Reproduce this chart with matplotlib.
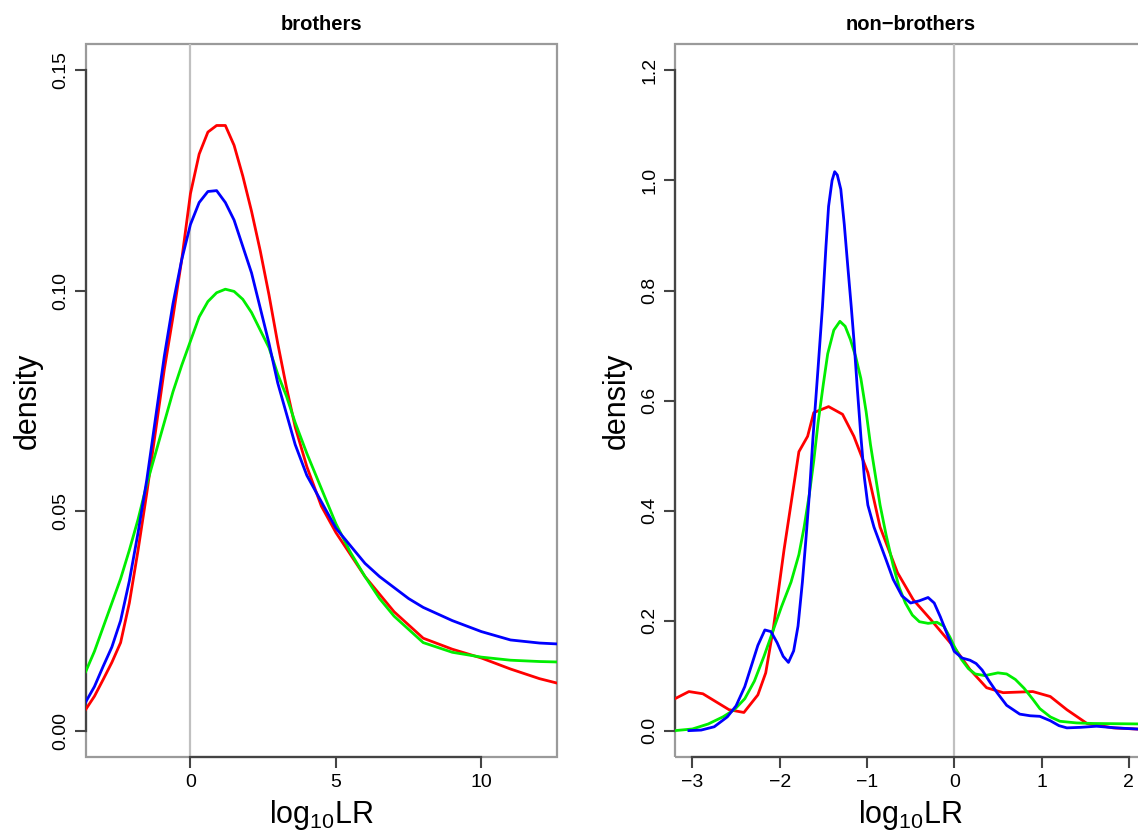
import matplotlib
matplotlib.use("Agg")
import matplotlib.pyplot as plt
from matplotlib.patches import Rectangle

plt.rcParams['font.family'] = ['Liberation Sans', 'DejaVu Sans']
plt.rcParams['mathtext.fontset'] = 'custom'
plt.rcParams['mathtext.rm'] = 'Liberation Sans'
plt.rcParams['mathtext.default'] = 'regular'

# brothers panel (shared x grid)
bro_x = [-3.6, -3.3, -3.0, -2.7, -2.4, -2.1, -1.8, -1.5, -1.2, -0.9, -0.6, -0.3, 0, 0.3, 0.6,
         0.9, 1.2, 1.5, 1.8, 2.1, 2.4, 2.7, 3.0, 3.3, 3.6, 4.0, 4.5, 5.0, 5.5, 6.0, 6.5, 7.0,
         7.5, 8.0, 9.0, 10.0, 11.0, 12.0, 12.6]
bro_red = [0.0048, 0.0078, 0.0116, 0.0155, 0.020, 0.029, 0.041, 0.054, 0.068, 0.082, 0.094,
           0.107, 0.122, 0.131, 0.136, 0.1375, 0.1375, 0.133, 0.126, 0.118, 0.109, 0.099,
           0.088, 0.078, 0.069, 0.060, 0.051, 0.045, 0.040, 0.035, 0.031, 0.027, 0.024,
           0.021, 0.0185, 0.0165, 0.014, 0.0118, 0.0108]
bro_blue = [0.0065, 0.010, 0.0146, 0.019, 0.025, 0.034, 0.045, 0.057, 0.071, 0.085, 0.097,
            0.107, 0.115, 0.120, 0.1225, 0.1227, 0.120, 0.116, 0.110, 0.104, 0.096, 0.088,
            0.079, 0.072, 0.065, 0.058, 0.052, 0.046, 0.042, 0.038, 0.035, 0.0325, 0.030,
            0.028, 0.025, 0.0225, 0.0206, 0.0199, 0.0197]
bro_green = [0.0134, 0.018, 0.0235, 0.029, 0.0345, 0.041, 0.048, 0.056, 0.063, 0.070, 0.077,
             0.083, 0.0885, 0.094, 0.0975, 0.0995, 0.1003, 0.0998, 0.098, 0.095, 0.091, 0.087,
             0.081, 0.076, 0.070, 0.063, 0.055, 0.047, 0.0405, 0.035, 0.030, 0.026, 0.023,
             0.020, 0.0178, 0.0167, 0.016, 0.0157, 0.0156]

# non-brothers panel
non_red_x = [-3.2, -3.04, -2.88, -2.58, -2.41, -2.25, -2.16, -2.07, -1.95, -1.78, -1.68, -1.61,
             -1.44, -1.28, -1.15, -0.99, -0.85, -0.65, -0.47, -0.27, 0, 0.18, 0.37, 0.56, 0.9,
             1.1, 1.29, 1.52, 1.82, 2.2]
non_red = [0.058, 0.071, 0.067, 0.038, 0.033, 0.065, 0.105, 0.189, 0.329, 0.507, 0.535, 0.578,
           0.589, 0.575, 0.535, 0.469, 0.370, 0.287, 0.238, 0.202, 0.151, 0.111, 0.078, 0.069,
           0.071, 0.062, 0.038, 0.013, 0.005, 0.002]
non_green_x = [-3.2, -3.0, -2.82, -2.65, -2.52, -2.4, -2.29, -2.18, -2.08, -1.98, -1.87, -1.78,
               -1.72, -1.66, -1.61, -1.56, -1.5, -1.45, -1.38, -1.31, -1.25, -1.19, -1.13, -1.07,
               -1.01, -0.96, -0.9, -0.85, -0.78, -0.7, -0.63, -0.56, -0.48, -0.4, -0.3, -0.2,
               -0.12, -0.05, 0, 0.08, 0.16, 0.24, 0.35, 0.5, 0.6, 0.7, 0.8, 0.9, 0.98, 1.1,
               1.21, 1.4, 1.59, 2.2]
non_green = [0.0, 0.003, 0.012, 0.025, 0.038, 0.058, 0.090, 0.135, 0.180, 0.225, 0.27, 0.32,
             0.37, 0.43, 0.49, 0.56, 0.63, 0.685, 0.728, 0.744, 0.735, 0.711, 0.68, 0.64, 0.58,
             0.52, 0.46, 0.41, 0.355, 0.30, 0.26, 0.232, 0.21, 0.198, 0.195, 0.197, 0.19, 0.17,
             0.153, 0.13, 0.113, 0.103, 0.1, 0.105, 0.103, 0.093, 0.077, 0.057, 0.04, 0.025,
             0.017, 0.014, 0.013, 0.012]
non_blue_x = [-3.04, -2.9, -2.75, -2.6, -2.5, -2.4, -2.33, -2.25, -2.17, -2.1, -2.03, -1.96,
              -1.9, -1.84, -1.79, -1.74, -1.70, -1.66, -1.62, -1.56, -1.51, -1.47, -1.44, -1.40,
              -1.37, -1.34, -1.30, -1.26, -1.22, -1.18, -1.15, -1.11, -1.07, -1.03, -0.99, -0.92,
              -0.85, -0.78, -0.7, -0.6, -0.5, -0.4, -0.3, -0.23, -0.16, -0.08, 0, 0.09, 0.18,
              0.25, 0.32, 0.4, 0.49, 0.6, 0.75, 0.87, 0.98, 1.1, 1.2, 1.29, 1.45, 1.63, 1.85, 2.2]
non_blue = [0.0, 0.001, 0.007, 0.025, 0.045, 0.08, 0.115, 0.155, 0.183, 0.18, 0.16, 0.135,
            0.124, 0.145, 0.19, 0.27, 0.347, 0.43, 0.53, 0.66, 0.771, 0.88, 0.953, 1.0, 1.016,
            1.01, 0.984, 0.92, 0.844, 0.77, 0.711, 0.62, 0.535, 0.46, 0.41, 0.37, 0.34, 0.31,
            0.275, 0.245, 0.232, 0.236, 0.242, 0.232, 0.207, 0.175, 0.144, 0.132, 0.128, 0.122,
            0.11, 0.09, 0.069, 0.046, 0.03, 0.027, 0.026, 0.018, 0.009, 0.005, 0.006, 0.008,
            0.005, 0.002]

panels = [
    ("brothers", [(bro_x, bro_red), (bro_x, bro_green), (bro_x, bro_blue)],
     (-3.6, 12.6), (-0.006, 0.156), [0, 5, 10], [0.00, 0.05, 0.10, 0.15], "%.2f"),
    ("non\u2212brothers", [(non_red_x, non_red), (non_green_x, non_green), (non_blue_x, non_blue)],
     (-3.2, 2.2), (-0.048, 1.248), [-3, -2, -1, 0, 1, 2], [0.0, 0.2, 0.4, 0.6, 0.8, 1.0, 1.2], "%.1f"),
]
colors = ['#ff0000', '#00ee00', '#0000ff']

fig = plt.figure(figsize=(11.38, 8.33), dpi=100)
axes_pos = [[0.0753, 0.0912, 0.4142, 0.8559], [0.5931, 0.0912, 0.4142, 0.8559]]
dark = '#444444'
light = '#9a9a9a'

for pos, (title, series, xlim, ylim, xt, yt, fmt) in zip(axes_pos, panels):
    ax = fig.add_axes(pos)
    ax.axvline(0, color='#c0c0c0', lw=1.6, zorder=1)
    for (x, y), c in zip(series, colors):
        ax.plot(x, y, color=c, lw=2.0, zorder=3)
    ax.set_xlim(*xlim)
    ax.set_ylim(*ylim)
    ax.set_xticks(xt)
    ax.set_yticks(yt)
    ax.set_xticklabels([str(v).replace('-', '\u2212') for v in xt])
    ax.set_yticklabels([fmt % v for v in yt], rotation=90, va='center')
    ax.add_patch(Rectangle((0, 0), 1, 1, transform=ax.transAxes, fill=False,
                           ec=light, lw=1.6, clip_on=False, zorder=0))
    for s in ['top', 'right']:
        ax.spines[s].set_visible(False)
    for s in ['left', 'bottom']:
        ax.spines[s].set_color(dark)
        ax.spines[s].set_linewidth(1.6)
    ax.spines['left'].set_bounds(yt[0], yt[-1])
    ax.spines['bottom'].set_bounds(xt[0], xt[-1])
    ax.tick_params(direction='out', length=8, width=1.5, color=dark, labelsize=14, pad=4)
    ax.set_title(title, fontsize=14.5, fontweight='bold', pad=10)
    ax.set_xlabel('log$_{10}$LR', fontsize=22, labelpad=5)
    ax.set_ylabel('density', fontsize=22, labelpad=7)

fig.savefig('out.png', dpi=100)
